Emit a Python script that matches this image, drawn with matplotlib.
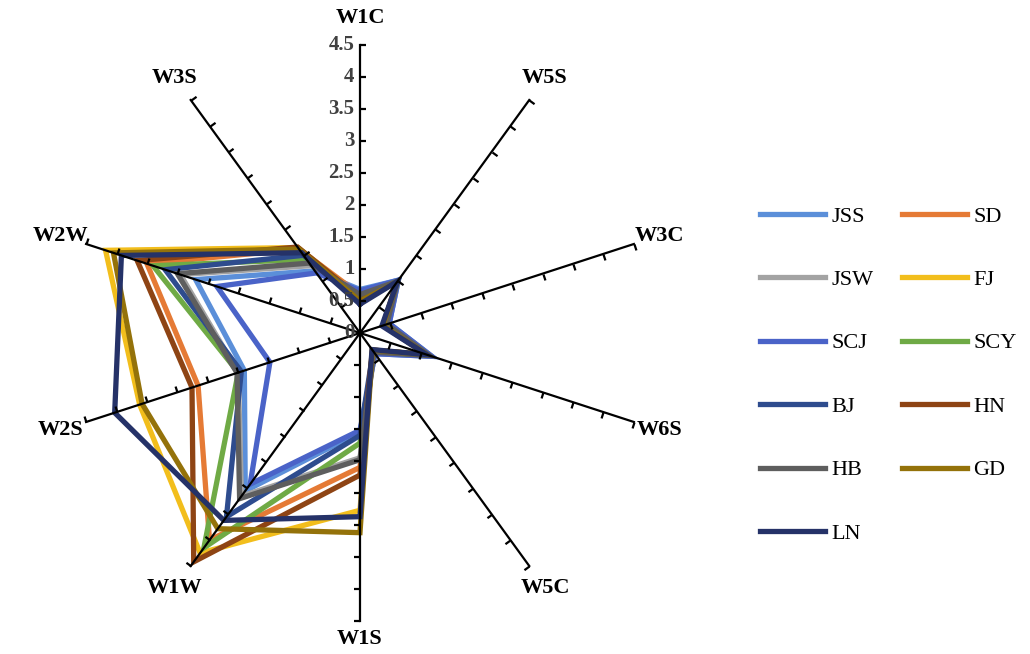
import numpy as np
import matplotlib.pyplot as plt
from matplotlib.path import Path
from matplotlib.markers import MarkerStyle
from matplotlib.transforms import Affine2D

categories = ["W1C", "W5S", "W3C", "W6S", "W5C", "W1S", "W1W", "W2S", "W2W", "W3S"]
series_names = ["JSS", "SD", "JSW", "FJ", "SCJ", "SCY", "BJ", "HN", "HB", "GD", "LN"]
colors = ["#5B8FD9", "#E57A35", "#A3A3A3", "#F2BE1C", "#4A63C8", "#6FAA45",
          "#2E4C8E", "#8E4414", "#5E5E5E", "#94720A", "#253268"]

JSS = [0.68, 1.02, 0.48, 1.18, 0.40, 1.55, 3.05, 1.90, 2.70, 1.20]
SD = [0.60, 1.00, 0.42, 1.12, 0.36, 2.10, 4.00, 2.66, 3.50, 1.62]
JSW = [0.62, 1.00, 0.45, 1.15, 0.38, 1.95, 3.15, 2.00, 2.95, 1.30]
FJ = [0.55, 0.98, 0.40, 1.10, 0.33, 2.77, 4.25, 3.62, 4.18, 1.65]
SCJ = [0.66, 1.02, 0.48, 1.18, 0.40, 1.52, 2.92, 1.48, 2.35, 1.16]
SCY = [0.58, 1.00, 0.42, 1.12, 0.36, 1.72, 4.15, 2.00, 3.40, 1.42]
BJ = [0.52, 1.00, 0.40, 1.12, 0.35, 1.60, 3.55, 1.95, 3.20, 1.50]
HN = [0.55, 0.98, 0.38, 1.10, 0.33, 2.22, 4.42, 2.76, 3.66, 1.66]
HB = [0.60, 1.00, 0.44, 1.14, 0.37, 1.98, 3.20, 2.02, 3.00, 1.35]
GD = [0.50, 0.98, 0.38, 1.10, 0.33, 3.12, 3.78, 3.58, 4.05, 1.62]
LN = [0.45, 1.00, 0.36, 1.10, 0.32, 2.87, 3.62, 4.03, 3.92, 1.55]
series = [JSS, SD, JSW, FJ, SCJ, SCY, BJ, HN, HB, GD, LN]

r_ticks = [0, 0.5, 1, 1.5, 2, 2.5, 3, 3.5, 4, 4.5]
r_tick_labels = ["0", "0.5", "1", "1.5", "2", "2.5", "3", "3.5", "4", "4.5"]
r_max = 4.5

serif = ["Liberation Serif", "DejaVu Serif"]

fig = plt.figure(figsize=(10.3, 6.54), dpi=100)
ax = fig.add_axes([0.0699, 0.0505, 0.5592, 0.8807], projection="polar")
ax.set_theta_zero_location("N")
ax.set_theta_direction(-1)
ax.set_ylim(0, r_max)
ax.grid(False)
ax.spines["polar"].set_visible(False)
ax.set_xticks([])
ax.set_yticks([])
ax.patch.set_alpha(0)

theta = np.deg2rad(np.arange(len(categories)) * 360 / len(categories))

# data lines
lines = []
for name, vals, c in zip(series_names, series, colors):
    t = np.append(theta, theta[0])
    v = np.append(vals, vals[0])
    ln, = ax.plot(t, v, color=c, lw=3.8, label=name, zorder=2,
                  solid_joinstyle="miter")
    lines.append(ln)

# axis lines with one-sided ticks (excel style)
tick_path = Path([(0, 0), (1, 0)])
for k, th in enumerate(theta):
    ax.plot([th, th], [0, r_max], color="black", lw=1.6, zorder=3, clip_on=False)
    ang = -np.rad2deg(th)
    m = MarkerStyle(tick_path, transform=Affine2D().rotate_deg(ang))
    ax.plot([th] * (len(r_ticks) - 1), r_ticks[1:], linestyle="none", marker=m,
            markersize=9, markeredgewidth=1.6, markeredgecolor="black",
            zorder=3, clip_on=False)
    lab_r = 4.78 if categories[k] == "W1S" else 4.92
    ax.text(th, lab_r, categories[k], ha="center", va="center", fontsize=16,
            fontweight="bold", family=serif, color="black")

for r, s in zip(r_ticks, r_tick_labels):
    ax.annotate(s, xy=(0, r), xytext=(-4, 0), textcoords="offset points",
                ha="right", va="center", fontsize=15, fontweight="bold",
                family=serif, color="#404040", zorder=4)

order = [0, 2, 4, 6, 8, 10, 1, 3, 5, 7, 9]
fig.legend([lines[i] for i in order], [series_names[i] for i in order],
           loc="upper left", bbox_to_anchor=(0.738, 0.685), ncol=2,
           frameon=False, prop={"family": serif, "size": 16},
           handlelength=2.9, handletextpad=0.3, columnspacing=1.3,
           labelspacing=1.93, borderpad=0, borderaxespad=0)

fig.savefig("out.png", dpi=100)
